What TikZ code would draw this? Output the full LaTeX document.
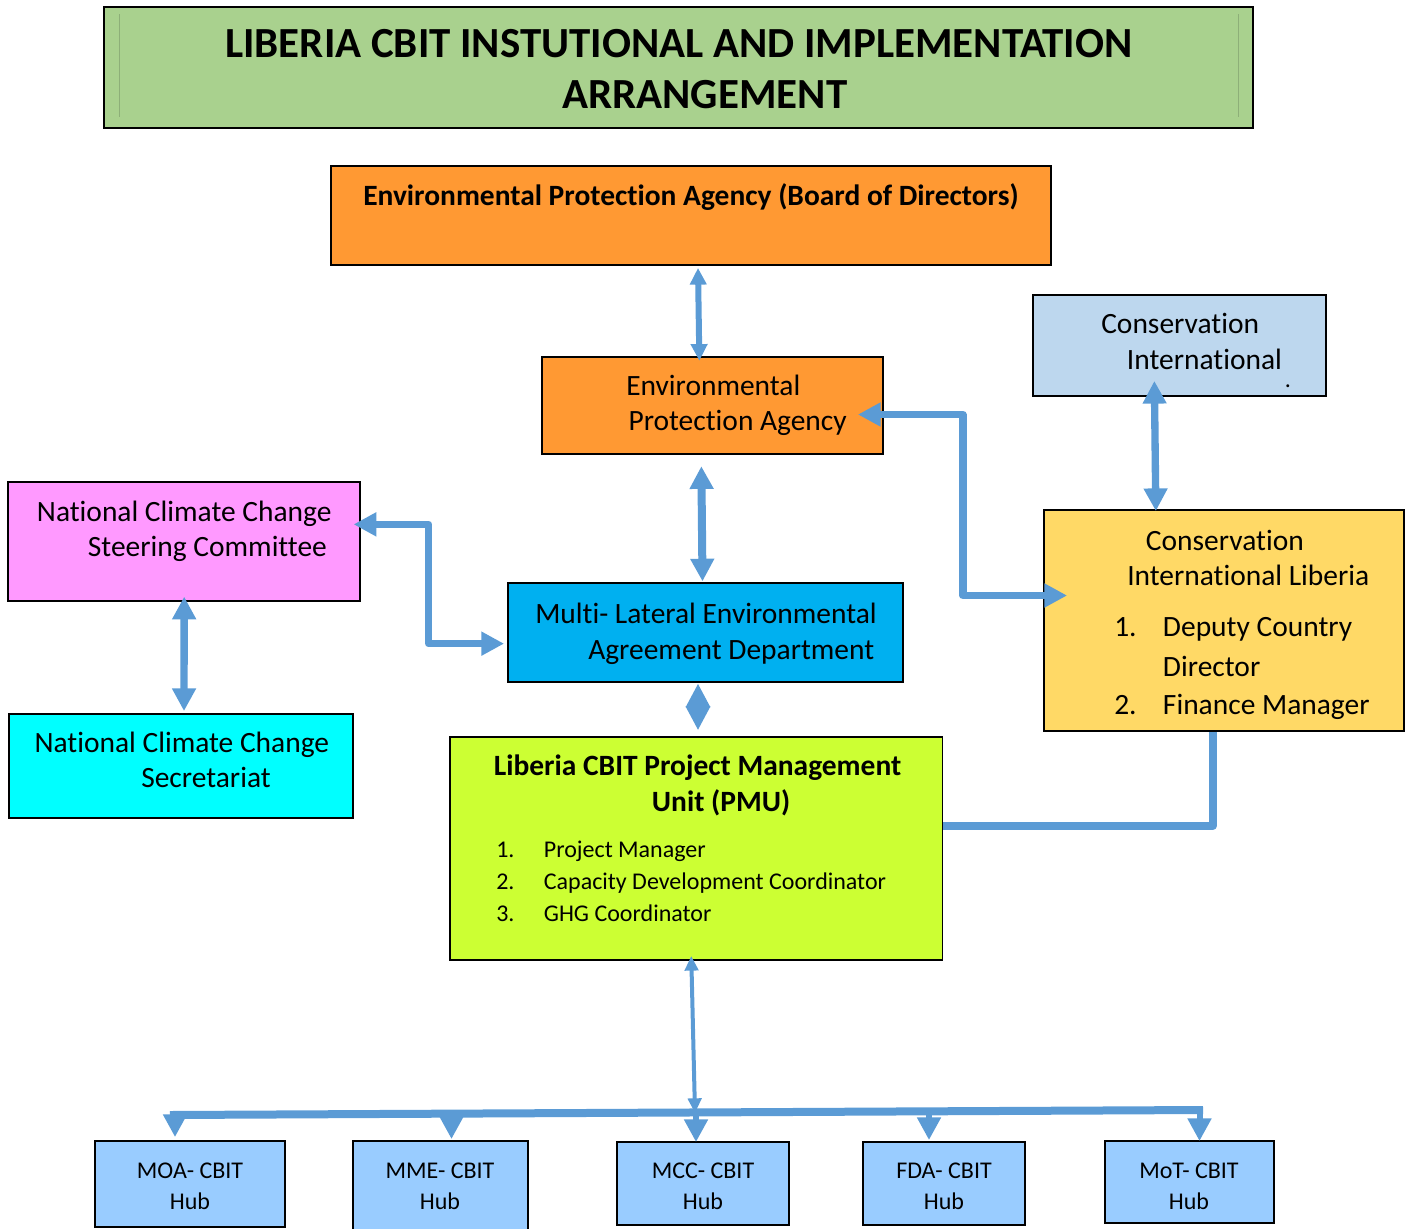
\documentclass[tikz,border=0pt]{standalone}
\usepackage{fontspec}
\setmainfont{Carlito}[Ligatures=NoCommon]
\usetikzlibrary{arrows.meta,calc,fit}
\definecolor{titlegreen}{HTML}{A9D18E}
\definecolor{epaorange}{HTML}{FF9933}
\definecolor{pinkbox}{HTML}{FF99FF}
\definecolor{cyanbox}{HTML}{00FFFF}
\definecolor{meablue}{HTML}{00B0F0}
\definecolor{pmugreen}{HTML}{CCFF33}
\definecolor{cibox}{HTML}{BDD7EE}
\definecolor{cilbox}{HTML}{FFD966}
\definecolor{hubblue}{HTML}{99CCFF}
\definecolor{arrowblue}{HTML}{5B9BD5}
\definecolor{innerline}{HTML}{8DAF78}
\newcommand\fsA{\fontsize{22.1}{26.5}\selectfont}
\newcommand\fsB{\fontsize{18}{22}\selectfont}
\newcommand\fsT{\fontsize{32.2}{38}\selectfont\bfseries}
\tikzset{
  tipL/.tip={Triangle[width=17pt,length=17pt]},
  tipS/.tip={Triangle[width=12pt,length=12.5pt]},
  tipT/.tip={Triangle[width=10pt,length=11pt]},
  tipD/.tip={Triangle[width=18.4pt,length=17.5pt]},
}
\begin{document}
\begin{tikzpicture}[x=0.75pt,y=-0.75pt,
  box/.style={draw=black, line width=1.4pt, inner sep=0pt},
  txt/.style={anchor=base west, inner sep=0pt, font=\fsA},
  txtb/.style={anchor=base west, inner sep=0pt, font=\fsA\bfseries},
  txts/.style={anchor=base west, inner sep=0pt, font=\fsB},
  txtc/.style={anchor=base, inner sep=0pt, font=\fsB},
  conn/.style={draw=arrowblue, line width=5.5pt, line join=round},
]
\useasboundingbox (0,0) rectangle (1410,1228);

% title
\node[box, fill=titlegreen, fit={(104,7) (1253,128)}] (title) {};
\draw[innerline, line width=0.8pt] (title.north west) ++(16,8) coordinate (il1) -- ++(0,103);
\draw[innerline, line width=0.8pt] (title.north east) ++(-15,8) coordinate (il2) -- ++(0,103);
\node[anchor=base west, inner sep=0pt, font=\fsT] (t1) at (225,57.5) {LIBERIA CBIT INSTUTIONAL AND IMPLEMENTATION};
\node[anchor=base west, inner sep=0pt, font=\fsT] (t2) at (562,108.5) {ARRANGEMENT};

% boxes
\node[box, fill=epaorange, fit={(331,166) (1051,265)}] (epab) {};
\node[txtb] (epabt) at (363,205) {Environmental Protection Agency (Board of Directors)};

\node[box, fill=epaorange, fit={(541.7,356.7) (883,454.3)}] (epa) {};
\node[txt] (epat1) at (626,395) {Environmental};
\node[txt] (epat2) at (628.3,430.7) {Protection Agency};

\node[box, fill=cibox, fit={(1032.7,294.7) (1326,396)}] (ci) {};
\node[txt] (cit1) at (1101,333) {Conservation};
\node[txt] (cit2) at (1126.7,369) {International};
\node[anchor=base west, inner sep=0pt, font=\fsB] (citdot) at (1284.5,387) {.};

\node[box, fill=pinkbox, fit={(7.7,482) (359.7,600.7)}] (nccsc) {};
\node[txt] (nccsct1) at (36.7,521) {National Climate Change};
\node[txt] (nccsct2) at (87.7,556.7) {Steering Committee};

\node[box, fill=cyanbox, fit={(9,714) (353,817.7)}] (nccs) {};
\node[txt] (nccst1) at (34.3,752.7) {National Climate Change};
\node[txt] (nccst2) at (141,787.3) {Secretariat};

\node[box, fill=meablue, fit={(508,583.3) (903,682)}] (mea) {};
\node[txt] (meat1) at (535,623) {Multi- Lateral Environmental};
\node[txt] (meat2) at (588,659) {Agreement Department};

\node[box, fill=cilbox, fit={(1044,510) (1403.7,731)}] (cil) {};
\node[txt] (cilt1) at (1145.7,550) {Conservation};
\node[txt] (cilt2) at (1127,585.7) {International Liberia};
\node[txt] (cilt3n) at (1114,636.7) {1.};
\node[txt] (cilt3) at (1162.7,636.7) {Deputy Country};
\node[txt] (cilt4) at (1162.7,676) {Director};
\node[txt] (cilt5n) at (1114,714) {2.};
\node[txt] (cilt5) at (1162.7,714) {Finance Manager};

\node[box, fill=pmugreen, fit={(450,736.7) (942.5,960)}] (pmu) {};
\node[txtb] (pmut1) at (493.6,775.7) {Liberia CBIT Project Management};
\node[txtb] (pmut2) at (651.7,811.7) {Unit (PMU)};
\node[txts] (pmul1n) at (496,857.7) {1.};
\node[txts] (pmul1) at (543.6,857.7) {Project Manager};
\node[txts] (pmul2n) at (496,889.5) {2.};
\node[txts] (pmul2) at (543.6,889.5) {Capacity Development Coordinator};
\node[txts] (pmul3n) at (496,921.5) {3.};
\node[txts] (pmul3) at (543.6,921.5) {GHG Coordinator};

% hubs
\node[box, fill=hubblue, fit={(95,1141) (285,1227)}] (moa) {};
\node[box, fill=hubblue, fit={(353,1141) (528,1240)}] (mme) {};
\node[box, fill=hubblue, fit={(617,1142) (789,1225)}] (mcc) {};
\node[box, fill=hubblue, fit={(863,1142) (1025,1225)}] (fda) {};
\node[box, fill=hubblue, fit={(1105,1141) (1274,1223)}] (mot) {};
\node[txtc] (moat1) at (190,1178) {MOA- CBIT};
\node[txtc] (moat2) at (190,1209) {Hub};
\node[txtc] (mmet1) at (440,1178) {MME- CBIT};
\node[txtc] (mmet2) at (440,1209) {Hub};
\node[txtc] (mcct1) at (703,1178) {MCC- CBIT};
\node[txtc] (mcct2) at (703,1209) {Hub};
\node[txtc] (fdat1) at (944,1178) {FDA- CBIT};
\node[txtc] (fdat2) at (944,1209) {Hub};
\node[txtc] (mott1) at (1189,1178) {MoT- CBIT};
\node[txtc] (mott2) at (1189,1209) {Hub};

% connectors
\draw[conn, line width=4.5pt, tipS-tipS] ($(epab.south)+(7,2)$) -- ($(epa.north)+(-13,5)$);
\draw[conn, line width=6pt, tipL-tipL] ($(epa.south)+(-11,11)$) -- ($(mea.north)+(-3,-1)$);
\draw[conn, tipL-tipL] ($(epa.east)+(-26,9)$) -- ++(105,0) |- ($(cil.west)+(24,-25)$);
\draw[conn, tipL-tipL] ($(nccsc.east)+(-7,-17)$) -- ++(75,0) |- ($(mea.west)+(-3,11)$);
\draw[conn, tipL-tipL] ($(nccsc.south)+(0.5,-5)$) -- ($(nccs.north)+(3,-2)$);
\draw[conn, tipL-tipL] ($(ci.south)+(-25,-16)$) -- ($(cil.north)+(-68,2)$);
\draw[conn, line width=1pt, tipD-tipD] ($(mea.south)+(-7.5,1)$) -- ($(pmu.north)+(1.75,-6)$);
\draw[conn] ($(cil.south)+(-11,0)$) |- ($(pmu.east)+(0,-22.5)$);

% hub bus
\coordinate (busL) at (170,1115);
\coordinate (busR) at (1203,1110);
\coordinate (busM) at (695,1113);
\draw[conn, line width=6pt] (busL) -- (busR);
\draw[conn, line width=3pt, tipT-tipT] ($(pmu.south)+(-5,-5)$) -- (busM);
\coordinate (dmoa) at ($(moa.north)+(-15,-3)$);
\coordinate (dmme) at ($(mme.north)+(11,-1)$);
\coordinate (dmcc) at ($(mcc.north)+(-7,1)$);
\coordinate (dfda) at ($(fda.north)+(-15,-1)$);
\coordinate (dmot) at ($(mot.north)+(10,1)$);
\draw[conn, line width=4.5pt, -tipL] (dmoa |- busL) -- (dmoa);
\draw[conn, line width=4.5pt, -tipL] (dmme |- busL) -- (dmme);
\draw[conn, line width=4.5pt, -tipL] (dmcc |- busM) -- (dmcc);
\draw[conn, line width=4.5pt, -tipL] (dfda |- busR) -- (dfda);
\draw[conn, line width=4.5pt, -tipL] (dmot |- busR) -- (dmot);
\end{tikzpicture}
\end{document}
